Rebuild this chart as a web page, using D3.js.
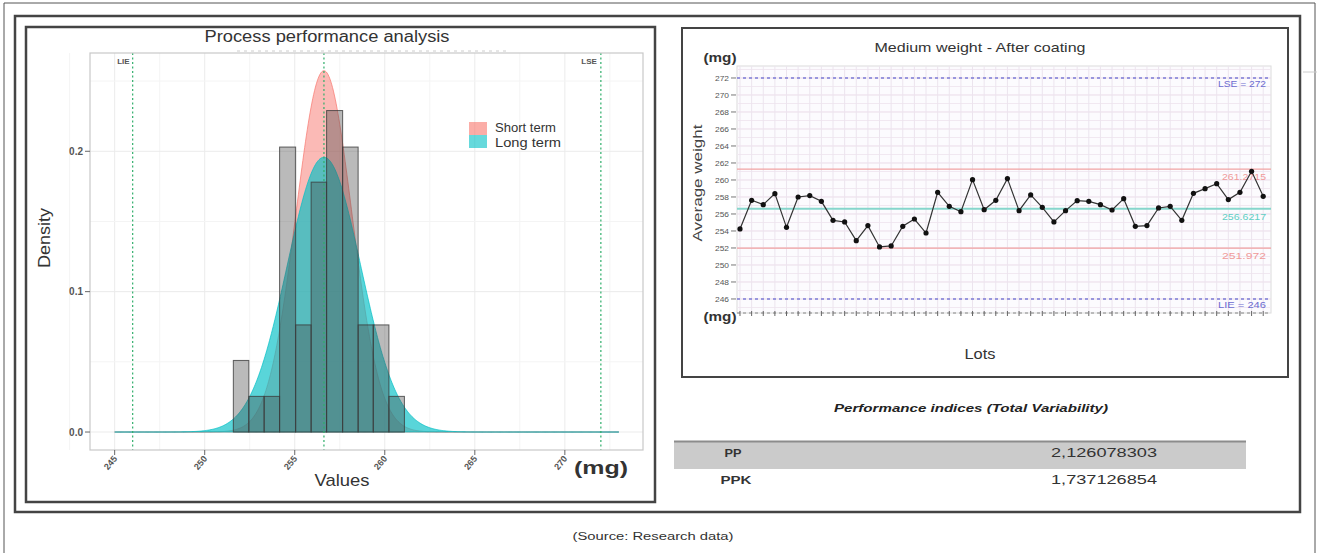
<!DOCTYPE html>
<html><head><meta charset="utf-8">
<script src="https://cdn.jsdelivr.net/npm/d3@7"></script>
<style>body{margin:0;background:#fff} svg{display:block} text{font-family:"Liberation Sans",Arial,sans-serif}</style>
</head><body><svg id="c" width="1317" height="553"></svg>
<script>
// ---------------- DATA ----------------
const avgWeight = [254.24,257.61,257.10,258.39,254.43,258.00,258.16,257.49,255.25,255.06,
  252.86,254.63,252.12,252.24,254.55,255.41,253.76,258.55,256.90,256.27,
  260.04,256.51,257.61,260.16,256.39,258.24,256.78,255.06,256.39,257.57,
  257.49,257.10,256.47,257.80,254.55,254.63,256.71,256.90,255.25,258.43,
  258.98,259.57,257.69,258.55,261.02,258.08];
const lots = avgWeight.map((d, i) => i + 1);
const histBinEdges = [251.59,252.45,253.30,254.16,255.05,255.91,256.77,257.66,258.52,259.36,260.23,261.09];
const histDensity = [0.051,0.0254,0.0254,0.203,0.0763,0.178,0.229,0.203,0.0763,0.0763,0.0254];
const specNames = ["LIE","LSE"];
const specLimits = [246, 272];
const processMean = 256.6217;
const curveNames = ["Short term","Long term"];
const curveSigma = [1.5499, 2.0381];
const curveRange = [245, 273];
const controlNames = ["251.972","256.6217","261.2715"];
const controlLimits = [251.972, 256.6217, 261.2715];
const histXTicks = [245,250,255,260,265,270];
const histYTicks = [0, 0.1, 0.2];
const lotYTicks = [246,248,250,252,254,256,258,260,262,264,266,268,270,272];
const tableLabels = ["PP","PPK"];
const tableValues = ["2,126078303","1,737126854"];

// ---------------- DRAW ----------------
const svg = d3.select("#c");
const pdf = (x, m, s) => Math.exp(-0.5 * ((x - m) / s) ** 2) / (s * Math.sqrt(2 * Math.PI));
function txt(g, x, y, s, o = {}) {
  const t = g.append("text").attr("x", x).attr("y", y).text(s)
    .attr("font-size", o.size || 12).attr("fill", o.fill || "#333")
    .attr("text-anchor", o.anchor || "middle");
  if (o.weight) t.attr("font-weight", o.weight);
  if (o.style) t.attr("font-style", o.style);
  if (o.family) t.attr("font-family", o.family);
  if (o.len) t.attr("textLength", o.len).attr("lengthAdjust", "spacingAndGlyphs");
  if (o.rot) t.attr("transform", `rotate(${o.rot},${x},${y})`);
  return t;
}

// frames
svg.append("path").attr("d", "M4,553V3H1315V553").attr("fill", "none").attr("stroke", "#555").attr("stroke-width", 1);
svg.append("line").attr("x1", 1303).attr("x2", 1317).attr("y1", 72).attr("y2", 72).attr("stroke", "#ccc");
svg.append("rect").attr("x", 15).attr("y", 16).attr("width", 1285).attr("height", 496)
  .attr("fill", "none").attr("stroke", "#444").attr("stroke-width", 2.5);
svg.append("rect").attr("x", 26).attr("y", 27).attr("width", 629).attr("height", 475)
  .attr("fill", "none").attr("stroke", "#444").attr("stroke-width", 2.5);
svg.append("rect").attr("x", 682).attr("y", 28).attr("width", 606).attr("height", 349)
  .attr("fill", "none").attr("stroke", "#444").attr("stroke-width", 2);

// ---- Left histogram chart ----
const P = {x0: 90, x1: 643, y0: 53, y1: 450};
const xH = d3.scaleLinear().domain([243.63, 274.34]).range([P.x0, P.x1]);
const yH = d3.scaleLinear().domain([-0.0128, 0.27]).range([P.y1, P.y0]);
const gL = svg.append("g");
gL.append("rect").attr("x", P.x0).attr("y", P.y0).attr("width", P.x1 - P.x0).attr("height", P.y1 - P.y0).attr("fill", "#fff");
// grid
const minorX = histXTicks.map(d => d - 2.5).concat([272.5]);
gL.selectAll(".gmx").data(minorX).join("line").attr("x1", d => xH(d)).attr("x2", d => xH(d))
  .attr("y1", P.y0).attr("y2", P.y1).attr("stroke", "#f4f4f4");
gL.selectAll(".gMx").data(histXTicks).join("line").attr("x1", d => xH(d)).attr("x2", d => xH(d))
  .attr("y1", P.y0).attr("y2", P.y1).attr("stroke", "#ebebeb");
gL.selectAll(".gmy").data([0.05, 0.15, 0.25]).join("line").attr("y1", d => yH(d)).attr("y2", d => yH(d))
  .attr("x1", P.x0).attr("x2", P.x1).attr("stroke", "#f4f4f4");
gL.selectAll(".gMy").data(histYTicks).join("line").attr("y1", d => yH(d)).attr("y2", d => yH(d))
  .attr("x1", P.x0).attr("x2", P.x1).attr("stroke", "#ebebeb");

// density curves
const curveFill = ["#F8766D", "#00BFC4"];
const curveAlpha = [0.5, 0.65];
curveSigma.forEach((s, i) => {
  const pts = d3.range(curveRange[0], curveRange[1] + 0.001, 0.05).map(x => [x, pdf(x, processMean, s)]);
  const area = d3.area().x(d => xH(d[0])).y0(yH(0)).y1(d => yH(d[1])).curve(d3.curveLinear);
  gL.append("path").attr("d", area(pts)).attr("fill", curveFill[i]).attr("fill-opacity", curveAlpha[i])
    .attr("stroke", curveFill[i]).attr("stroke-opacity", 0.7).attr("stroke-width", 1);
});
// histogram bars
gL.selectAll(".bar").data(histDensity).join("rect")
  .attr("x", (d, i) => xH(histBinEdges[i])).attr("width", (d, i) => xH(histBinEdges[i + 1]) - xH(histBinEdges[i]))
  .attr("y", d => yH(d)).attr("height", d => yH(0) - yH(d))
  .attr("fill", "#4a4a4a").attr("fill-opacity", 0.38).attr("stroke", "#3a3a3a").attr("stroke-opacity", 0.8).attr("stroke-width", 1);
// spec + mean lines
specLimits.concat([processMean]).forEach(v => {
  gL.append("line").attr("x1", xH(v)).attr("x2", xH(v)).attr("y1", P.y0).attr("y2", P.y1)
    .attr("stroke", "#2fae6a").attr("stroke-width", 1.2).attr("stroke-dasharray", "2,2.5");
});
txt(gL, xH(specLimits[0]) - 3, 64, specNames[0], {size: 8, anchor: "end", fill: "#555", weight: "bold"});
txt(gL, xH(specLimits[1]) - 4, 64, specNames[1], {size: 8, anchor: "end", fill: "#555", weight: "bold"});
// faint artifact line under title
gL.append("line").attr("x1", 237).attr("x2", 510).attr("y1", 51).attr("y2", 51)
  .attr("stroke", "#ccc").attr("stroke-dasharray", "3,4");
// panel border
gL.append("rect").attr("x", P.x0).attr("y", P.y0).attr("width", P.x1 - P.x0).attr("height", P.y1 - P.y0)
  .attr("fill", "none").attr("stroke", "#c8c8c8").attr("stroke-width", 1.2);
// axes
histYTicks.forEach(v => {
  gL.append("line").attr("x1", P.x0 - 5).attr("x2", P.x0).attr("y1", yH(v)).attr("y2", yH(v)).attr("stroke", "#666");
  txt(gL, P.x0 - 7, yH(v) + 3.5, d3.format(".1f")(v), {size: 10, anchor: "end", fill: "#555", weight: "bold"});
});
histXTicks.forEach(v => {
  gL.append("line").attr("x1", xH(v)).attr("x2", xH(v)).attr("y1", P.y1).attr("y2", P.y1 + 5).attr("stroke", "#666");
  txt(gL, xH(v) + 3, P.y1 + 9, String(v), {size: 9, anchor: "end", fill: "#555", weight: "bold", rot: -50});
});
txt(gL, 327, 42, "Process performance analysis", {size: 16, fill: "#333", len: 245});
txt(gL, 50, 238, "Density", {size: 17, fill: "#333", rot: -90, len: 60});
txt(gL, 342, 486, "Values", {size: 17, fill: "#333", len: 55});
txt(gL, 601, 474, "(mg)", {size: 19, fill: "#333", weight: "bold", family: "'Liberation Serif','DejaVu Serif',serif", len: 54});
// legend
curveNames.forEach((n, i) => {
  gL.append("rect").attr("x", 469).attr("y", 122 + i * 13).attr("width", 18).attr("height", 13)
    .attr("fill", curveFill[i]).attr("fill-opacity", 0.6);
  txt(gL, 495, 132 + i * 15, n, {size: i ? 13.5 : 12, anchor: "start", fill: "#333", len: i ? 66 : 61});
});

// ---- Right control chart ----
const R = {x0: 737, x1: 1271, y0: 66, y1: 313};
const xL = d3.scaleLinear().domain([0.742, 46.67]).range([R.x0, R.x1]);
const yL = d3.scaleLinear().domain([244.35, 273.41]).range([R.y1, R.y0]);
const gR = svg.append("g");
gR.append("rect").attr("x", R.x0).attr("y", R.y0).attr("width", R.x1 - R.x0).attr("height", R.y1 - R.y0)
  .attr("fill", "#fcfbfe").attr("stroke", "#dcdcdc");
gR.selectAll(".hg").data(d3.range(245, 274)).join("line").attr("x1", R.x0).attr("x2", R.x1)
  .attr("y1", d => yL(d)).attr("y2", d => yL(d)).attr("stroke", d => d % 2 ? "#f1e8f1" : "#eadbe8");
gR.selectAll(".vg").data(lots).join("line").attr("x1", d => xL(d)).attr("x2", d => xL(d))
  .attr("y1", R.y0).attr("y2", R.y1).attr("stroke", "#ece4ee");
// control lines
const ctrlColor = ["#f1a3a3", "#86d6cc", "#f1a3a3"];
controlLimits.forEach((v, i) => {
  gR.append("line").attr("x1", R.x0).attr("x2", R.x1).attr("y1", yL(v)).attr("y2", yL(v))
    .attr("stroke", ctrlColor[i]).attr("stroke-width", i === 1 ? 2 : 1.3);
  txt(gR, 1266, yL(v) + 11, controlNames[i], {size: 9.5, anchor: "end", fill: i === 1 ? "#5fcfc4" : "#f09a9a", len: 44});
});
specLimits.forEach((v, i) => {
  gR.append("line").attr("x1", R.x0).attr("x2", R.x1).attr("y1", yL(v)).attr("y2", yL(v))
    .attr("stroke", "#7c7cd6").attr("stroke-width", 1.3).attr("stroke-dasharray", "3,3");
  txt(gR, 1266, yL(v) + 9, `${specNames[i]} = ${v}`, {size: 9.5, anchor: "end", fill: "#6c6cd0", len: 48});
});
// bottom axis row
gR.append("line").attr("x1", R.x0).attr("x2", R.x1).attr("y1", R.y1).attr("y2", R.y1)
  .attr("stroke", "#888").attr("stroke-dasharray", "3,3");
gR.selectAll(".xt").data(lots).join("line").attr("x1", d => xL(d)).attr("x2", d => xL(d))
  .attr("y1", R.y1 - 2).attr("y2", R.y1 + 3).attr("stroke", "#666");
// y axis
lotYTicks.forEach(v => {
  gR.append("line").attr("x1", R.x0 - 6).attr("x2", R.x0 - 1).attr("y1", yL(v)).attr("y2", yL(v)).attr("stroke", "#777");
  txt(gR, R.x0 - 8, yL(v) + 3, String(v), {size: 8, anchor: "end", fill: "#555", len: 14});
});
// series
const line = d3.line().x((d, i) => xL(lots[i])).y(d => yL(d));
gR.append("path").attr("d", line(avgWeight)).attr("fill", "none").attr("stroke", "#333").attr("stroke-width", 1.2);
gR.selectAll(".pt").data(avgWeight).join("circle").attr("cx", (d, i) => xL(lots[i])).attr("cy", d => yL(d))
  .attr("r", 2.6).attr("fill", "#111");
txt(gR, 980, 52, "Medium weight - After coating", {size: 13.5, fill: "#333", len: 211});
txt(gR, 720, 62, "(mg)", {size: 12, fill: "#333", weight: "bold", len: 33});
txt(gR, 720, 321, "(mg)", {size: 12, fill: "#333", weight: "bold", len: 33});
txt(gR, 702, 183, "Average weight", {size: 13, fill: "#444", rot: -90, len: 117});
txt(gR, 980, 359, "Lots", {size: 15, fill: "#333", len: 31});

// ---- Table ----
const gT = svg.append("g");
txt(gT, 971, 412, "Performance indices (Total Variability)", {size: 11.5, fill: "#222", weight: "bold", style: "italic", len: 274});
gT.append("rect").attr("x", 674).attr("y", 441).attr("width", 572).attr("height", 28).attr("fill", "#cbcbcb");
gT.append("line").attr("x1", 674).attr("x2", 1246).attr("y1", 441.5).attr("y2", 441.5).attr("stroke", "#8c8c8c").attr("stroke-width", 2);
tableLabels.forEach((l, i) => {
  txt(gT, i ? 736 : 733, 457 + i * 27, l, {size: 11.5, fill: "#333", weight: "bold", len: i ? 31 : 17});
  txt(gT, 1104, 457 + i * 27, tableValues[i], {size: 12, fill: "#333", len: 106});
});
txt(svg, 653, 540, "(Source: Research data)", {size: 10, fill: "#333", len: 161});
</script></body></html>
